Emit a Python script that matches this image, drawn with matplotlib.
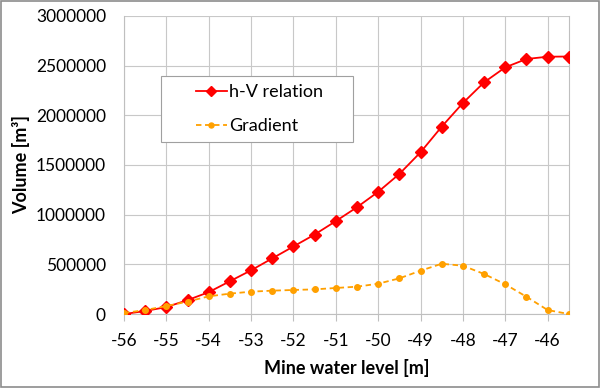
import matplotlib
matplotlib.use("Agg")
import matplotlib.pyplot as plt
from matplotlib.patches import Rectangle

plt.rcParams['font.family'] = ['Lato', 'DejaVu Sans']

# water level [m]
level = [-56.0, -55.5, -55.0, -54.5, -54.0, -53.5, -53.0, -52.5, -52.0, -51.5, -51.0,
         -50.5, -50.0, -49.5, -49.0, -48.5, -48.0, -47.5, -47.0, -46.5, -46.0, -45.5]
# h-V relation [m3]
volume = [0, 30000, 70000, 140000, 220000, 330000, 440000, 560000, 680000, 800000, 935000,
          1075000, 1230000, 1410000, 1628000, 1886000, 2124000, 2332000, 2483000, 2567000,
          2590000, 2592000]
# gradient
gradient = [10000, 40000, 80000, 125000, 178000, 205000, 225000, 235000, 242000, 248000, 262000,
            275000, 305000, 359000, 436000, 506000, 486000, 403000, 299000, 174000,
            40000, 0]

fig = plt.figure(figsize=(6, 3.88), dpi=100)
ax = fig.add_axes([0.2067, 0.1907, 0.7413, 0.7681])

ax.plot(level, volume, color="#ff0000", linewidth=1.3, marker="D", markersize=6,
        label="h-V relation", zorder=3)
ax.plot(level, gradient, color="#ffa000", linewidth=1.3, linestyle=(0, (3, 2)),
        marker="o", markersize=4, label="Gradient", zorder=3)

ax.set_xlim(-56, -45.5)
ax.set_ylim(0, 3000000)
ax.set_xticks(range(-56, -45))
ax.set_yticks(range(0, 3000001, 500000))
ax.set_xticklabels([str(v) for v in range(-56, -45)])
ax.set_yticklabels([str(v) for v in range(0, 3000001, 500000)])
ax.tick_params(axis="x", labelsize=12.5, length=5, color="#bfbfbf", width=0.8, pad=9)
ax.tick_params(axis="y", labelsize=12.5, length=0, pad=13)
ax.grid(True, color="#c8c8c8", linewidth=0.8)
ax.set_axisbelow(True)
ax.spines["top"].set_visible(False)
for s in ["left", "bottom", "right"]:
    ax.spines[s].set_color("#bfbfbf")
    ax.spines[s].set_linewidth(0.8)

ax.set_xlabel("Mine water level [m]", fontsize=13, fontweight="bold", labelpad=7)
ax.set_ylabel("Volume [m³]", fontsize=13, fontweight="bold", labelpad=4)

# legend box (wider than the legend content, like the original)
ax.add_patch(Rectangle((0.083, 0.577), 0.432, 0.222, transform=ax.transAxes,
                       facecolor="white", edgecolor="#a0a0a0", linewidth=0.8, zorder=4))
leg = ax.legend(loc="center left", bbox_to_anchor=(0.161, 0.688), fontsize=13,
                frameon=False, labelspacing=1.0, handlelength=1.75, handletextpad=0.1,
                borderaxespad=0, borderpad=0, markerscale=0.9)
leg.set_zorder(5)

fig.patches.append(Rectangle((0.002, 0.002), 0.996, 0.995, transform=fig.transFigure,
                             fill=False, edgecolor="#8c8c8c", linewidth=1.2))

fig.savefig("out.png", dpi=100)
